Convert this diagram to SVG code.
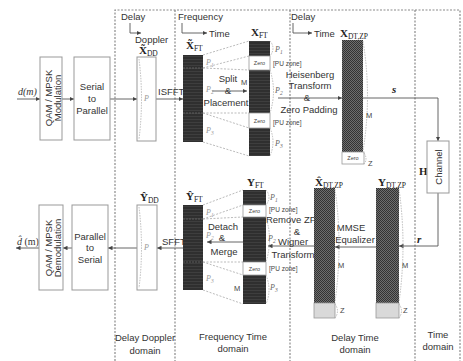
<svg xmlns="http://www.w3.org/2000/svg" width="463" height="361" viewBox="0 0 463 361">
<defs>
<style>
.t{font-family:"Liberation Sans",Arial,sans-serif;font-size:9.5px;fill:#333}
.tc{text-anchor:middle}
.sm{font-family:"Liberation Sans",Arial,sans-serif;font-size:6.5px;fill:#444}
.zr{font-family:"Liberation Sans",Arial,sans-serif;font-size:5.5px;fill:#444;text-anchor:middle}
.ml{font-family:"Liberation Serif","Times New Roman",serif;font-size:11px;font-weight:bold;fill:#222}
.sub{font-size:7.5px;font-weight:normal}
.pl{font-family:"Liberation Serif","Times New Roman",serif;font-style:italic;font-size:8px;fill:#999}
.pr{font-family:"Liberation Serif","Times New Roman",serif;font-style:italic;font-size:8px;fill:#666}
.ps{font-size:5.5px}
.frame{stroke:#8a8a8a;stroke-width:1.2;stroke-dasharray:2 1.5;fill:none}
.box{fill:#fff;stroke:#999;stroke-width:1}
.arr{stroke:#555;stroke-width:0.9;fill:none;marker-end:url(#ah)}
.dl{stroke:#aaa;stroke-width:0.8;stroke-dasharray:2 1.5;fill:none}
.br{stroke:#aaa;stroke-width:0.8;stroke-dasharray:1.5 1.2;fill:none}
.zero{fill:#fff;stroke:#999;stroke-width:0.8}
.gray{fill:#d9d9d9;stroke:#999;stroke-width:0.8}
.mm{font-family:"Liberation Sans",Arial,sans-serif;font-size:7.5px;fill:#444}
</style>
<marker id="ah" viewBox="0 0 6 6" refX="6" refY="3" markerWidth="4.5" markerHeight="4.5" markerUnits="userSpaceOnUse" orient="auto"><path d="M0,0 L6,3 L0,6 z" fill="#444"/></marker>
<pattern id="stripes" width="4" height="3" patternUnits="userSpaceOnUse"><rect width="4" height="3" fill="#2f2f2f"/><rect y="2" width="4" height="0.6" fill="#474747"/></pattern>
<pattern id="checks" width="2" height="2" patternUnits="userSpaceOnUse"><rect width="2" height="2" fill="#6e6e6e"/><rect width="1" height="1" fill="#333"/><rect x="1" y="1" width="1" height="1" fill="#333"/></pattern>
</defs>

<g id="domains">
<path class="frame" d="M115,361 V10 H460 V361"/>
<line class="frame" x1="175" y1="10" x2="175" y2="361"/>
<line class="frame" x1="290" y1="10" x2="290" y2="361"/>
<line class="frame" x1="415" y1="10" x2="415" y2="361"/>
<text class="t tc" x="145" y="341">Delay Doppler</text>
<text class="t tc" x="145" y="354">domain</text>
<text class="t tc" x="233" y="340">Frequency Time</text>
<text class="t tc" x="233" y="352">domain</text>
<text class="t tc" x="355" y="341">Delay Time</text>
<text class="t tc" x="355" y="353">domain</text>
<text class="t tc" x="438" y="338">Time</text>
<text class="t tc" x="438" y="350">domain</text>
</g>

<g id="axes">
<text class="t" x="121" y="20">Delay</text>
<path class="arr" d="M130,23 V33 H141"/>
<text class="t" x="135" y="43">Doppler</text>
<text class="t" x="178" y="20">Frequency</text>
<path class="arr" d="M182,23 V33 H207"/>
<text class="t" x="209" y="37">Time</text>
<text class="t" x="291" y="20">Delay</text>
<path class="arr" d="M293,23 V33 H312"/>
<text class="t" x="314" y="37">Time</text>
</g>

<g id="connectors">
<line class="arr" x1="17" y1="99" x2="40" y2="99"/>
<line class="arr" x1="62" y1="99" x2="74" y2="99"/>
<line class="arr" x1="110" y1="99" x2="137" y2="99"/>
<line class="arr" x1="156" y1="99" x2="183" y2="99"/>
<line class="arr" x1="212" y1="91" x2="247" y2="91"/>
<line class="arr" x1="278" y1="98" x2="342" y2="98"/>
<path class="arr" d="M363,98 H438 V141"/>
<path class="arr" d="M438,193 V246 H399"/>
<line class="arr" x1="376" y1="247" x2="335" y2="247"/>
<line class="arr" x1="314" y1="246" x2="268" y2="246"/>
<line class="arr" x1="243" y1="242" x2="207" y2="242"/>
<line class="arr" x1="183" y1="248" x2="157" y2="248"/>
<line class="arr" x1="137" y1="248" x2="108" y2="248"/>
<line class="arr" x1="72" y1="248" x2="63" y2="248"/>
<line class="arr" x1="39" y1="248" x2="16" y2="248"/>
<text class="t" x="158" y="95">ISFFT</text>
<text class="t" x="162" y="245">SFFT</text>
<text class="t tc" x="228" y="82">Split</text>
<text class="t tc" x="228" y="94">&amp;</text>
<text class="t tc" x="226" y="106">Placement</text>
<text class="t tc" x="310" y="78">Heisenberg</text>
<text class="t tc" x="310" y="89">Transform</text>
<text class="t tc" x="307" y="101">&amp;</text>
<text class="t tc" x="309" y="113">Zero Padding</text>
<text class="ml" x="392" y="93" font-style="italic" font-size="9">s</text>
<text class="ml" x="419" y="175" font-size="10">H</text>
<text class="ml" x="417" y="243" font-style="italic" font-size="9">r</text>
<text class="t tc" x="351" y="231">MMSE</text>
<text class="t tc" x="355" y="243">Equalizer</text>
<text class="t tc" x="291" y="223">Remove ZP</text>
<text class="t tc" x="297" y="235">&amp;</text>
<text class="t tc" x="293" y="245">Wigner</text>
<text class="t tc" x="293" y="258">Transform</text>
<text class="t tc" x="223" y="230">Detach</text>
<text class="t tc" x="222" y="241">&amp;</text>
<text class="t tc" x="224" y="255">Merge</text>
<text x="18" y="95" font-family="Liberation Serif,serif" font-style="italic" font-size="10" fill="#333">d(m)</text>
<text x="17" y="245" font-family="Liberation Serif,serif" font-size="10" fill="#333"><tspan font-style="italic">d̂</tspan> (m)</text>
</g>

<g id="qam-mod">
<rect class="box" x="40" y="57" width="22" height="83"/>
<g transform="translate(51,98) rotate(-90)"><text class="t tc" x="0" y="1">QAM / MPSK</text><text class="t tc" x="0" y="10">Modulation</text></g>
</g>
<g id="serial-to-parallel">
<rect class="box" x="74" y="57" width="36" height="83"/>
<text class="t tc" x="92" y="90">Serial</text>
<text class="t tc" x="92" y="102">to</text>
<text class="t tc" x="92" y="114">Parallel</text>
</g>
<g id="x-dd">
<rect class="box" x="137" y="57" width="19" height="84"/>
<path class="br" d="M139,59 Q144,99 139,139"/>
<text class="pl" x="144" y="101">P</text>
<text class="ml" x="139" y="54">X̃<tspan class="sub" dy="2">DD</tspan></text>
</g>
<g id="x-ft-tilde">
<rect x="183" y="55" width="20" height="87" fill="url(#stripes)"/>
<line x1="183" y1="68" x2="203" y2="68" stroke="#777" stroke-width="0.6" stroke-dasharray="2 1"/>
<line x1="183" y1="113" x2="203" y2="113" stroke="#777" stroke-width="0.6" stroke-dasharray="2 1"/>
<text class="ml" x="186" y="49">X̃<tspan class="sub" dy="2">FT</tspan></text>
<text class="pl" x="206" y="65">P<tspan class="ps" dy="2">1</tspan></text>
<text class="pl" x="206" y="92">P<tspan class="ps" dy="2">2</tspan></text>
<text class="pl" x="206" y="133">P<tspan class="ps" dy="2">3</tspan></text>
</g>
<g id="split-lines">
<line class="dl" x1="203" y1="55" x2="249" y2="41"/>
<line class="dl" x1="203" y1="68" x2="249" y2="56"/>
<line class="dl" x1="203" y1="68" x2="249" y2="70"/>
<line class="dl" x1="203" y1="113" x2="249" y2="113"/>
<line class="dl" x1="203" y1="113" x2="249" y2="128"/>
<line class="dl" x1="203" y1="142" x2="249" y2="156"/>
</g>
<g id="x-ft">
<rect x="249" y="41" width="21" height="115" fill="url(#stripes)"/>
<rect class="zero" x="249" y="56" width="21" height="14"/>
<rect class="zero" x="249" y="113" width="21" height="15"/>
<text class="zr" x="259.5" y="65">Zero</text>
<text class="zr" x="259.5" y="122.5">Zero</text>
<text class="ml" x="251" y="36">X<tspan class="sub" dy="2">FT</tspan></text>
<text class="mm" x="241" y="85">M</text>
<path class="br" d="M270,41 Q276,48 270,56"/>
<path class="br" d="M270,70 Q277,91 270,113"/>
<path class="br" d="M270,128 Q276,142 270,156"/>
<text class="pr" x="275" y="52">P<tspan class="ps" dy="2">1</tspan></text>
<text class="sm" x="273" y="66">[PU zone]</text>
<text class="pr" x="275" y="93">P<tspan class="ps" dy="2">2</tspan></text>
<text class="sm" x="273" y="125">[PU zone]</text>
<text class="pr" x="275" y="146">P<tspan class="ps" dy="2">3</tspan></text>
</g>
<g id="x-dt-zp">
<rect x="342" y="40" width="21" height="112" fill="url(#checks)"/>
<rect class="zero" x="342" y="152" width="22" height="12"/>
<text class="zr" x="353" y="160">Zero</text>
<text class="ml" x="340" y="37">X<tspan class="sub" dy="2">DT,ZP</tspan></text>
<path class="br" d="M363,41 Q372,96 363,151"/>
<path class="br" d="M364,153 Q368,159 364,164"/>
<text class="mm" x="366" y="118">M</text>
<text class="mm" x="368" y="166">Z</text>
</g>
<g id="channel">
<rect class="box" x="427" y="141" width="22" height="52"/>
<text class="t tc" transform="translate(441.5,167) rotate(-90)">Channel</text>
</g>
<g id="y-dt-zp">
<rect x="376" y="188" width="23" height="115" fill="url(#checks)"/>
<rect class="gray" x="376" y="303" width="23" height="15"/>
<text class="ml" x="378" y="186">Y<tspan class="sub" dy="2">DT,ZP</tspan></text>
<path class="br" d="M399,189 Q407,245 399,302"/>
<path class="br" d="M399,304 Q404,311 399,318"/>
<text class="mm" x="402" y="268">M</text>
<text class="mm" x="403" y="313">Z</text>
</g>
<g id="x-hat-dt-zp">
<rect x="314" y="188" width="21" height="115" fill="url(#checks)"/>
<rect class="gray" x="314" y="303" width="21" height="15"/>
<text class="ml" x="315" y="186">X̂<tspan class="sub" dy="2">DT,ZP</tspan></text>
<path class="br" d="M335,189 Q343,245 335,302"/>
<path class="br" d="M335,304 Q340,311 335,318"/>
<text class="mm" x="338" y="268">M</text>
<text class="mm" x="340" y="313">Z</text>
</g>
<g id="y-ft">
<rect x="243" y="190" width="23" height="114" fill="url(#stripes)"/>
<rect class="zero" x="243" y="205" width="23" height="12"/>
<rect class="zero" x="243" y="262" width="23" height="13"/>
<text class="zr" x="254.5" y="213">Zero</text>
<text class="zr" x="254.5" y="270.5">Zero</text>
<text class="ml" x="247" y="186">Y<tspan class="sub" dy="2">FT</tspan></text>
<text class="mm" x="234" y="291">M</text>
<path class="br" d="M266,190 Q272,197 266,205"/>
<path class="br" d="M266,217 Q273,240 266,262"/>
<path class="br" d="M266,275 Q272,290 266,304"/>
<text class="pr" x="270" y="200">P<tspan class="ps" dy="2">1</tspan></text>
<text class="sm" x="269" y="212">[PU zone]</text>
<text class="pr" x="268" y="241">P<tspan class="ps" dy="2">2</tspan></text>
<text class="sm" x="269" y="271">[PU zone]</text>
<text class="pr" x="270" y="290">P<tspan class="ps" dy="2">3</tspan></text>
</g>
<g id="merge-lines">
<line class="dl" x1="203" y1="205" x2="243" y2="190"/>
<line class="dl" x1="203" y1="219" x2="243" y2="205"/>
<line class="dl" x1="203" y1="219" x2="243" y2="217"/>
<line class="dl" x1="203" y1="262" x2="243" y2="262"/>
<line class="dl" x1="203" y1="262" x2="243" y2="275"/>
<line class="dl" x1="203" y1="290" x2="243" y2="304"/>
</g>
<g id="y-ft-hat">
<rect x="183" y="205" width="20" height="85" fill="url(#stripes)"/>
<line x1="183" y1="219" x2="203" y2="219" stroke="#777" stroke-width="0.6" stroke-dasharray="2 1"/>
<line x1="183" y1="262" x2="203" y2="262" stroke="#777" stroke-width="0.6" stroke-dasharray="2 1"/>
<text class="ml" x="186" y="200">Ŷ<tspan class="sub" dy="2">FT</tspan></text>
<text class="pl" x="206" y="215">P<tspan class="ps" dy="2">1</tspan></text>
<text class="pl" x="206" y="238">P<tspan class="ps" dy="2">2</tspan></text>
<text class="pl" x="206" y="281">P<tspan class="ps" dy="2">3</tspan></text>
</g>
<g id="y-dd">
<rect class="box" x="137" y="205" width="20" height="85"/>
<path class="br" d="M139,207 Q144,248 139,288"/>
<text class="pl" x="144" y="250">P</text>
<text class="ml" x="140" y="201">Ŷ<tspan class="sub" dy="2">DD</tspan></text>
</g>
<g id="parallel-to-serial">
<rect class="box" x="72" y="205" width="36" height="85"/>
<text class="t tc" x="90" y="240">Parallel</text>
<text class="t tc" x="90" y="251">to</text>
<text class="t tc" x="90" y="263">Serial</text>
</g>
<g id="qam-demod">
<rect class="box" x="39" y="205" width="24" height="85"/>
<g transform="translate(51,248) rotate(-90)"><text class="t tc" x="0" y="1">QAM / MPSK</text><text class="t tc" x="0" y="10">Demodulation</text></g>
</g>
</svg>
